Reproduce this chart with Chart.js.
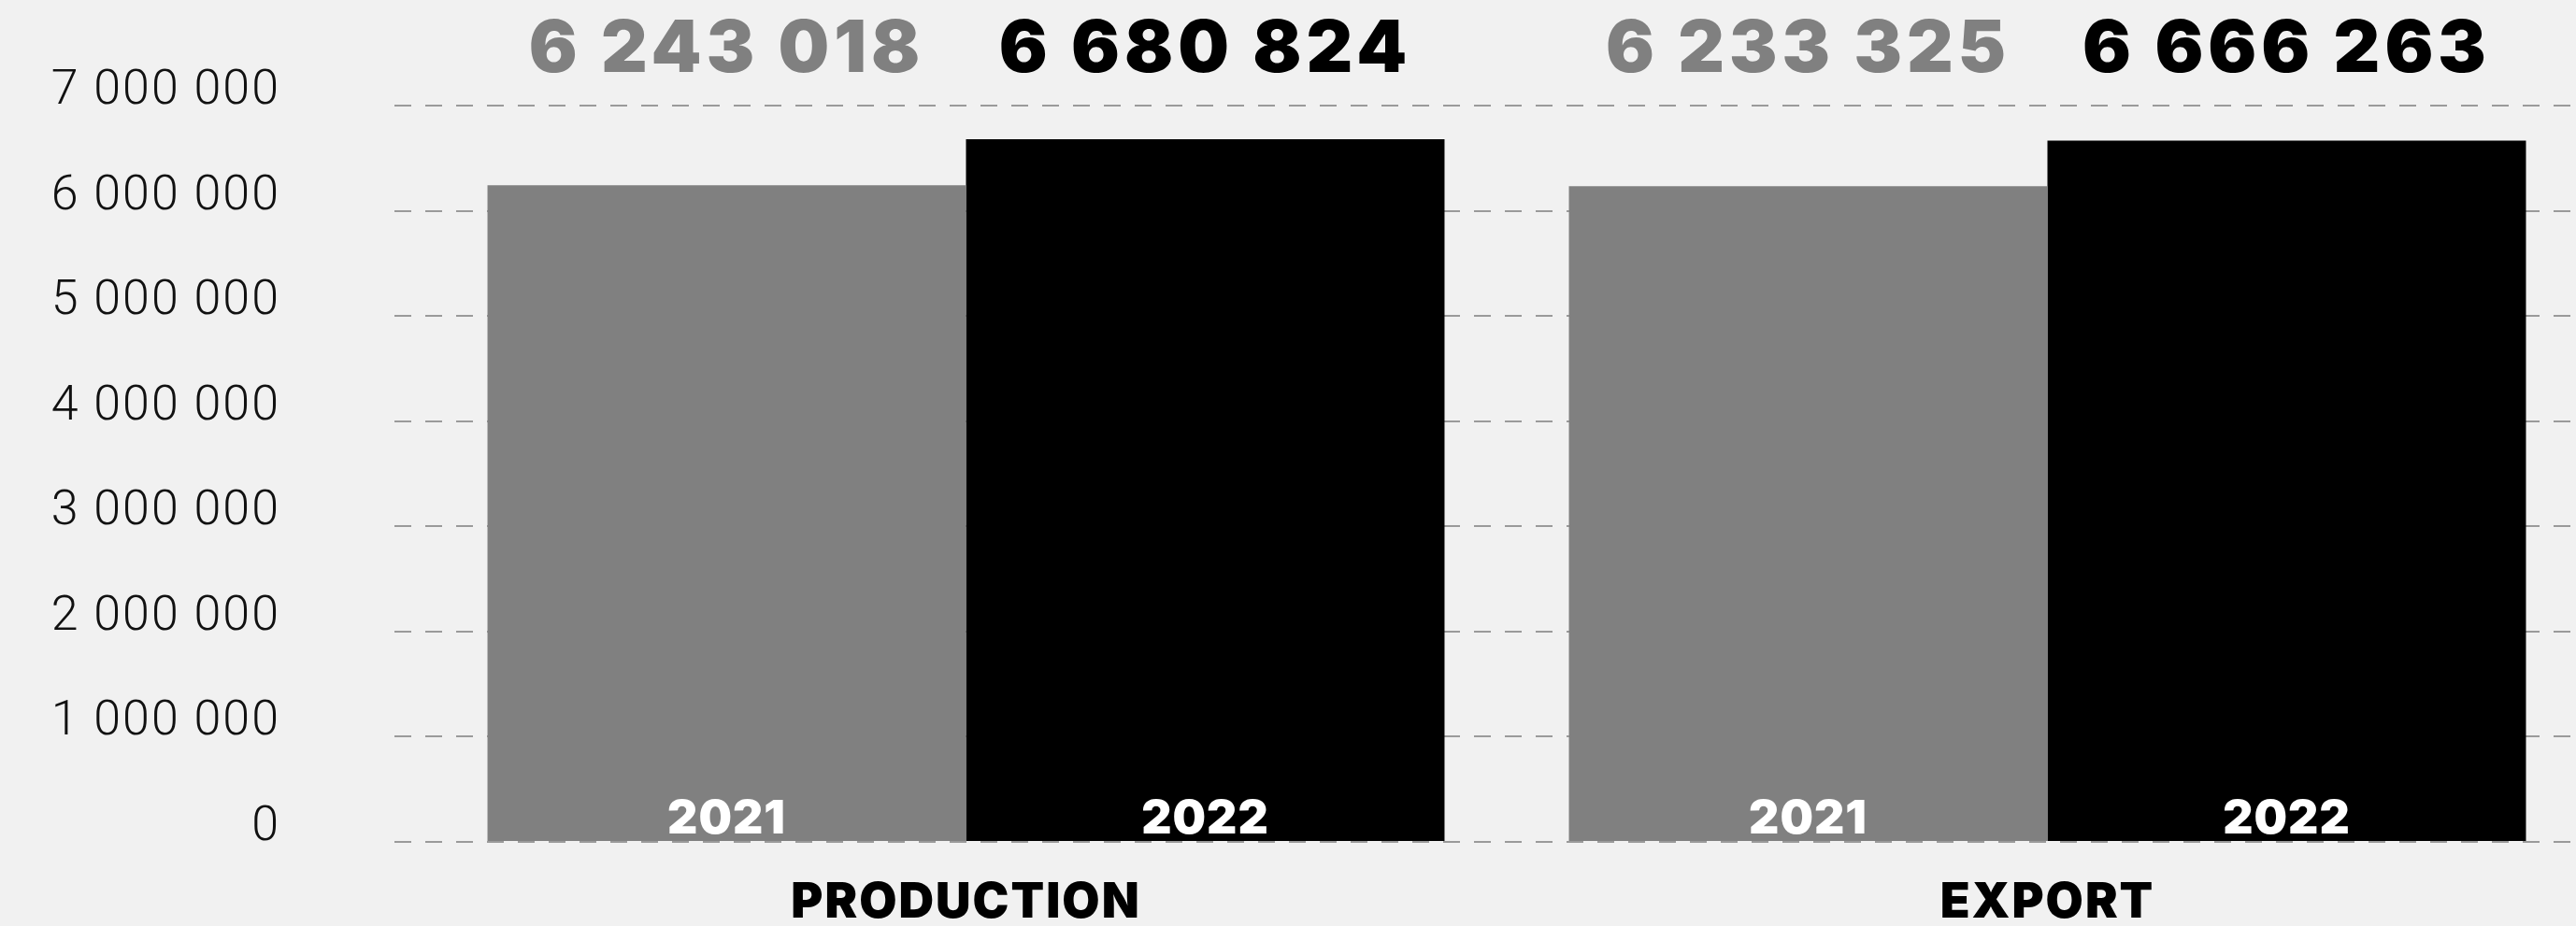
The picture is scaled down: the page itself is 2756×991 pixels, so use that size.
<!DOCTYPE html>
<html>
<head>
<meta charset="utf-8">
<script src="https://cdn.jsdelivr.net/npm/chart.js@4.4.1/dist/chart.umd.min.js"></script>
<style>
    html, body { margin: 0; padding: 0; background: #f1f1f1; overflow: hidden; }
    #wrap { width: 2769px; height: 991px; }
</style>
</head>
<body>
<div id="wrap"><canvas id="chart"></canvas></div>
<script>
const categories = ['PRODUCTION', 'EXPORT'];
const years = ['2021', '2022'];
const values2021 = [6243018, 6233325];
const values2022 = [6680824, 6666263];
const yMax = 7000000;
const yStep = 1000000;

const gray = '#808080';
const black = '#000000';

// 6243018 -> "6 243 018"
function fmt(n) {
    return String(n).replace(/\B(?=(\d{3})+(?!\d))/g, ' ');
}

const barLabels = {
    id: 'barLabels',
    beforeDraw(chart) {
        chart.ctx.letterSpacing = '2px';
    },
    afterDatasetsDraw(chart) {
        const ctx = chart.ctx;
        ctx.save();
        ctx.textAlign = 'center';
        ctx.textBaseline = 'alphabetic';
        chart.data.datasets.forEach((ds, di) => {
            chart.getDatasetMeta(di).data.forEach((bar, i) => {
                // big value above the plot
                ctx.letterSpacing = '5px';
                ctx.font = '900 77px Inter';
                ctx.fillStyle = ds.backgroundColor;
                ctx.fillText(fmt(ds.data[i]), bar.x, 77);
                // year inside the bar
                ctx.letterSpacing = '1px';
                ctx.font = '900 50px Inter';
                ctx.fillStyle = '#ffffff';
                ctx.fillText(ds.label, bar.x, bar.base - 8);
            });
        });
        ctx.restore();
    }
};

const ctx = document.getElementById('chart').getContext('2d');
const myChart = new Chart(ctx, {
    type: 'bar',
    data: {
        labels: categories,
        datasets: [
            {label: years[0], data: values2021, backgroundColor: gray},
            {label: years[1], data: values2022, backgroundColor: black}
        ]
    },
    options: {
        responsive: true,
        maintainAspectRatio: false,
        animation: false,
        layout: {padding: {top: 113, left: 0, right: 0, bottom: 0}},
        datasets: {bar: {categoryPercentage: 0.885, barPercentage: 1.0}},
        plugins: {legend: {display: false}, tooltip: {enabled: false}},
        scales: {
            x: {
                grid: {display: false, drawTicks: false},
                border: {display: false},
                ticks: {
                    color: '#000',
                    padding: 34,
                    font: {family: 'Inter', size: 52, weight: '900'}
                },
                afterFit(scale) { scale.height = 90; }
            },
            y: {
                min: 0,
                max: yMax,
                grid: {
                    color: '#9a9a9a',
                    lineWidth: 2,
                    drawTicks: true,
                    tickLength: 33,
                    tickColor: '#9a9a9a',
                    tickWidth: 2,
                    tickBorderDash: [18, 15]
                },
                border: {display: false, dash: [18, 15]},
                ticks: {
                    stepSize: yStep,
                    padding: 122,
                    labelOffset: -15,
                    color: '#111',
                    font: {family: 'Roboto', size: 52, weight: '300'},
                    callback: (v) => fmt(v)
                },
                afterFit(scale) {
                    scale.width = 455;
                    // tick padding would otherwise push the plot area in
                    scale.paddingTop = 0;
                    scale.paddingBottom = 0;
                }
            }
        }
    },
    plugins: [barLabels]
});
</script>
</body>
</html>
